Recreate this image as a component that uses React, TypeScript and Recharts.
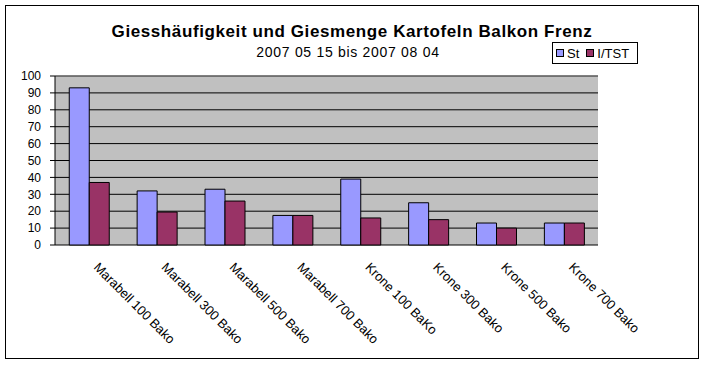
import React from 'react';
import { BarChart, Bar, XAxis, YAxis, CartesianGrid, ReferenceLine } from 'recharts';

const categories = [
  'Marabell 100 Bako',
  'Marabell 300 Bako',
  'Marabell 500 Bako',
  'Marabell 700 Bako',
  'Krone 100 BaKo',
  'Krone 300 Bako',
  'Krone 500 Bako',
  'Krone 700 Bako',
];
const stValues = [93, 32, 33, 17.5, 39, 25, 13, 13];
const tstValues = [37, 19.5, 26, 17.5, 16, 15, 10, 13];
const yTicks = [0, 10, 20, 30, 40, 50, 60, 70, 80, 90, 100];

const series = [
  { key: 'st', name: 'St', color: '#9999FF' },
  { key: 'tst', name: 'I/TST', color: '#993366' },
];

const data = categories.map((name, i) => ({ name, st: stValues[i], tst: tstValues[i] }));
// boundaries between categories, for the tick marks under the axis
const slotTicks = [...categories.map((_, i) => i), categories.length];

const font = '"Liberation Sans", Arial, sans-serif';

function CategoryTick(props: any) {
  const { x, y, payload } = props;
  return (
    <g transform={`translate(${x + 4},${y + 15}) rotate(45)`}>
      <text x={0} y={0} textAnchor="start" fontSize={13} fill="#000" fontFamily={font}>
        {payload.value}
      </text>
    </g>
  );
}

function Legendbox() {
  return (
    <div
      style={{
        position: 'absolute',
        left: 552,
        top: 42,
        width: 86,
        height: 22,
        border: '1px solid #000',
        background: '#fff',
        display: 'flex',
        alignItems: 'center',
        fontFamily: font,
        fontSize: 13,
        paddingLeft: 3,
        boxSizing: 'border-box',
      }}
    >
      {series.map((s) => (
        <span key={s.key} style={{ display: 'flex', alignItems: 'center', marginRight: 7 }}>
          <span
            style={{
              width: 6,
              height: 6,
              background: s.color,
              border: '1px solid #000',
              marginRight: 3,
              display: 'inline-block',
            }}
          />
          {s.name}
        </span>
      ))}
    </div>
  );
}

export default function App() {
  return (
    <div style={{ position: 'absolute', left: 0, top: 0, width: 705, height: 366, background: '#fff' }}>
      <BarChart
        width={705}
        height={366}
        data={data}
        margin={{ top: 76, right: 107, left: 0, bottom: 0 }}
        barGap={0}
        barCategoryGap="21%"
        style={{ fontFamily: font }}
      >
        <XAxis
          xAxisId="grid"
          type="number"
          domain={[0, categories.length]}
          ticks={slotTicks}
          tick={false}
          height={0}
          tickSize={5}
          axisLine={{ stroke: '#000' }}
          tickLine={{ stroke: '#000' }}
          allowDataOverflow
        />
        <XAxis
          xAxisId="cat"
          dataKey="name"
          height={121}
          interval={0}
          axisLine={false}
          tickLine={false}
          tick={<CategoryTick />}
        />
        <YAxis
          domain={[0, 100]}
          ticks={yTicks}
          interval={0}
          width={55}
          tickSize={5}
          tickMargin={9}
          axisLine={{ stroke: '#000' }}
          tickLine={{ stroke: '#000' }}
          tick={{ fill: '#000', fontSize: 12 }}
        />
        <CartesianGrid xAxisId="cat" vertical={false} stroke="#000" fill="#C0C0C0" fillOpacity={1} />
        <ReferenceLine y={100} stroke="#808080" />
        <ReferenceLine xAxisId="grid" x={categories.length} stroke="#808080" />
        {series.map((s) => (
          <Bar
            key={s.key}
            xAxisId="cat"
            dataKey={s.key}
            name={s.name}
            fill={s.color}
            stroke="#000"
            strokeWidth={1}
            isAnimationActive={false}
          />
        ))}
      </BarChart>
      <svg
        width={705}
        height={366}
        style={{ position: 'absolute', left: 0, top: 0, pointerEvents: 'none' }}
      >
        <rect x={5.5} y={5.5} width={693} height={353} fill="none" stroke="#000" />
        <text
          x={352}
          y={37}
          textAnchor="middle"
          fontFamily={font}
          fontWeight="bold"
          fontSize={17}
          letterSpacing={0.6}
        >
          Giesshäufigkeit und Giesmenge Kartofeln Balkon Frenz
        </text>
        <text x={348} y={57} textAnchor="middle" fontFamily={font} fontSize={14} letterSpacing={0.7}>
          2007 05 15 bis 2007 08 04
        </text>
      </svg>
      <Legendbox />
    </div>
  );
}
